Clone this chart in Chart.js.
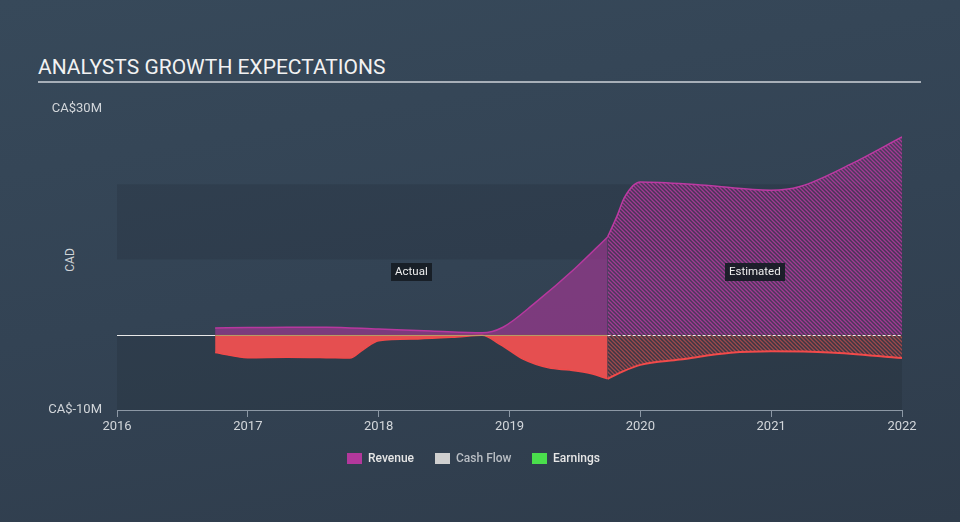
<!DOCTYPE html>
<html>
<head>
<meta charset="utf-8">
<script src="https://cdn.jsdelivr.net/npm/chart.js@4/dist/chart.umd.min.js"></script>
<style>
  html, body { margin:0; padding:0; }
  body { width:960px; height:522px; overflow:hidden; position:relative;
         background: linear-gradient(170deg, #37495a 0%, #334354 50%, #2f3c4b 100%);
         font-family: Roboto, "Noto Sans", sans-serif; }
  #title { position:absolute; left:38px; top:55px; font-size:21px; color:#f2f2f2; white-space:nowrap; }
  #rule { position:absolute; left:38px; top:81px; width:883px; height:2px; background:#a7afb8; }
  #cad { position:absolute; left:70px; top:260px; transform:translate(-50%,-50%) rotate(-90deg); font-size:12px; color:#cfd3d7; }
  #wrap { position:absolute; left:0; top:0; width:960px; height:522px; }
  .lg { position:absolute; top:450px; height:16px; display:flex; align-items:center; font-size:12px; font-weight:500; color:#e6e6e6; white-space:nowrap; }
  .lg span.box { display:inline-block; width:15px; height:11px; margin-right:6px; }
</style>
</head>
<body>
<div id="title">ANALYSTS GROWTH EXPECTATIONS</div>
<div id="rule"></div>
<div id="cad">CAD</div>
<div id="wrap"><canvas id="c" width="960" height="522"></canvas></div>
<div class="lg" style="left:347px"><span class="box" style="background:#b3389c"></span>Revenue</div>
<div class="lg" style="left:435px;color:#b9bec4"><span class="box" style="background:#cfcfcf"></span>Cash Flow</div>
<div class="lg" style="left:532px"><span class="box" style="background:#4ade4c"></span>Earnings</div>
<script>
// ---- data (CA$ millions, x = fractional year) ----
const revActualX = [2016.75, 2017.0, 2017.3, 2017.6, 2018.0, 2018.4, 2018.79, 2018.95, 2019.2, 2019.5, 2019.75];
const revActualY = [0.9, 0.95, 1.0, 1.0, 0.75, 0.5, 0.25, 1.0, 4.3, 8.8, 13.0];
const revEstX = [2019.75, 2019.82, 2019.88, 2020.0, 2020.46, 2021.0, 2021.22, 2021.6, 2022.0];
const revEstY = [13.0, 15.7, 18.3, 20.3, 19.9, 19.2, 19.7, 22.6, 26.3];
const earnActualX = [2016.75, 2017.0, 2017.3, 2017.6, 2017.78, 2017.88, 2018.0, 2018.3, 2018.6, 2018.79, 2018.93, 2019.1, 2019.3, 2019.46, 2019.62, 2019.75];
const earnActualY = [-2.35, -3.05, -3.0, -3.05, -3.1, -2.0, -0.8, -0.55, -0.3, -0.08, -1.3, -3.2, -4.4, -4.7, -5.15, -5.85];
const earnEstX = [2019.75, 2019.85, 2020.0, 2020.3, 2020.69, 2021.0, 2021.45, 2022.0];
const earnEstY = [-5.85, -5.0, -4.0, -3.3, -2.4, -2.2, -2.35, -3.1];
const yTicks = [-10, 30];
const yTickLabels = {"-10": "CA$-10M", "30": "CA$30M"};
const bands = [[-10, 0], [10, 20]];

const pts = (xs, ys) => xs.map((x, i) => ({x: x, y: ys[i]}));

function hatch(bg, stroke) {
  const c = document.createElement('canvas'); c.width = 4; c.height = 4;
  const g = c.getContext('2d');
  g.fillStyle = bg; g.fillRect(0, 0, 4, 4);
  g.strokeStyle = stroke; g.lineWidth = 1.3;
  g.beginPath();
  g.moveTo(-1, -1); g.lineTo(5, 5);
  g.moveTo(3, -1); g.lineTo(5, 1);
  g.moveTo(-1, 3); g.lineTo(1, 5);
  g.stroke();
  return g.createPattern(c, 'repeat');
}

const revHatch = hatch('rgba(120,40,110,0.35)', 'rgba(188,58,163,0.78)');
const earnHatch = hatch('rgba(90,50,60,0.35)', 'rgba(225,85,80,0.6)');

const decor = {
  id: 'decor',
  beforeDatasetsDraw(chart) {
    const {ctx, chartArea: a, scales: {y}} = chart;
    ctx.save();
    ctx.fillStyle = 'rgba(0,0,0,0.09)';
    bands.forEach(b => {
      const y1 = y.getPixelForValue(b[1]), y0 = y.getPixelForValue(b[0]);
      ctx.fillRect(a.left, y1, a.right - a.left, y0 - y1);
    });
    ctx.restore();
  },
  afterDatasetsDraw(chart) {
    const {ctx, chartArea: a, scales: {x, y}} = chart;
    const y0 = Math.round(y.getPixelForValue(0)) + 0.5;
    const xs = x.getPixelForValue(revActualX[0]);
    const xm = x.getPixelForValue(revEstX[0]);
    const xe = x.getPixelForValue(revEstX[revEstX.length - 1]);
    ctx.save();
    ctx.lineWidth = 1;
    ctx.strokeStyle = '#e8e8e8';
    ctx.beginPath(); ctx.moveTo(a.left, y0); ctx.lineTo(xs, y0); ctx.stroke();
    ctx.strokeStyle = 'rgba(170,175,110,0.8)';
    ctx.beginPath(); ctx.moveTo(xs, y0); ctx.lineTo(xm, y0); ctx.stroke();
    ctx.strokeStyle = '#e8e8e8';
    ctx.setLineDash([3, 2]);
    ctx.beginPath(); ctx.moveTo(xm, y0); ctx.lineTo(xe, y0); ctx.stroke();
    ctx.setLineDash([]);
    // region labels
    const ly = (a.top + a.bottom) / 2 + 12;
    ctx.font = '11.5px Roboto, sans-serif';
    ctx.textAlign = 'center'; ctx.textBaseline = 'middle';
    [['Actual', (xs + xm) / 2], ['Estimated', (xm + xe) / 2]].forEach(([t, cx]) => {
      const w = ctx.measureText(t).width + 8;
      ctx.fillStyle = 'rgba(22,28,36,0.92)';
      ctx.fillRect(Math.round(cx - w / 2), Math.round(ly - 9), Math.round(w), 18);
      ctx.fillStyle = '#eeeeee';
      ctx.fillText(t, cx, ly + 0.5);
    });
    ctx.restore();
  }
};

const common = {pointRadius: 0, pointHoverRadius: 0, cubicInterpolationMode: 'monotone', fill: 'origin'};

new Chart(document.getElementById('c'), {
  type: 'line',
  data: {
    datasets: [
      Object.assign({label: 'Revenue', data: pts(revActualX, revActualY), borderColor: '#b8389f', borderWidth: 1.5, backgroundColor: 'rgba(181,54,158,0.56)'}, common),
      Object.assign({label: 'Revenue (est.)', data: pts(revEstX, revEstY), borderColor: '#bd3aa3', borderWidth: 1.5, backgroundColor: revHatch}, common),
      Object.assign({label: 'Earnings', data: pts(earnActualX, earnActualY), borderColor: '#f04b4b', borderWidth: 1.5, backgroundColor: 'rgba(236,80,80,0.96)'}, common),
      Object.assign({label: 'Earnings (est.)', data: pts(earnEstX, earnEstY), borderColor: '#f24a4a', borderWidth: 2, backgroundColor: earnHatch}, common)
    ]
  },
  options: {
    responsive: false,
    animation: false,
    events: [],
    layout: {padding: {top: 109, bottom: 82, left: 47, right: 58}},
    plugins: {legend: {display: false}, tooltip: {enabled: false}},
    scales: {
      x: {
        type: 'linear', min: 2016, max: 2022,
        afterFit(s) { s.height = 30; },
        border: {display: true, color: '#8c98a5', width: 1},
        grid: {drawOnChartArea: false, drawTicks: true, tickLength: 7, color: '#8c98a5'},
        ticks: {stepSize: 1, padding: 2, color: '#d2d6da', font: {family: 'Roboto', size: 13}, maxRotation: 0,
                callback: v => String(v)}
      },
      y: {
        min: -10, max: 30,
        afterFit(s) { s.width = 70; },
        afterBuildTicks(s) { s.ticks = yTicks.map(v => ({value: v})); },
        border: {display: false},
        grid: {display: false, drawTicks: false},
        ticks: {padding: 15, color: '#d2d6da', font: {family: 'Roboto', size: 13},
                callback: v => yTickLabels[String(v)]}
      }
    }
  },
  plugins: [decor]
});
</script>
</body>
</html>
